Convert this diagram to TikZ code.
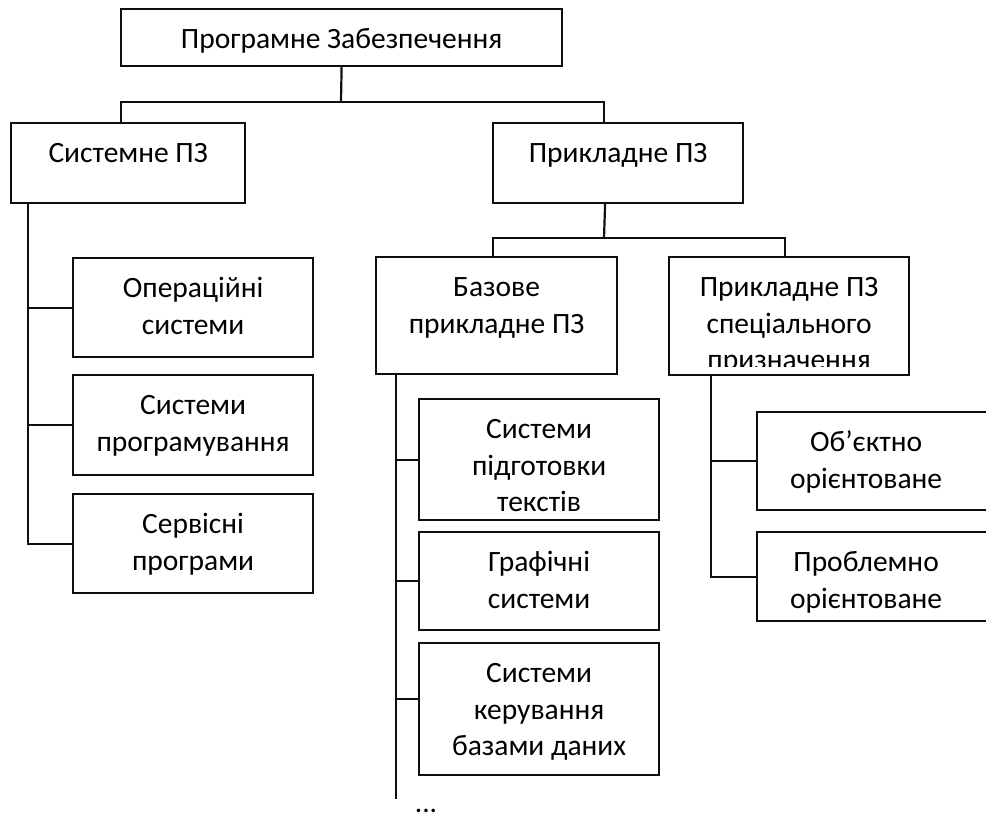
\documentclass[tikz,border=0pt]{standalone}
\usepackage{fontspec}
\setmainfont{Carlito}
\usepackage{tikz}
\usetikzlibrary{positioning, calc}
\definecolor{boxline}{RGB}{15,15,15}
\tikzset{
  box/.style={rectangle, draw=boxline, anchor=north west, inner sep=0pt,
    font=\fontsize{29.5}{36.5}\selectfont, line width=2.2pt},
  line/.style={line width=2.2pt, color=boxline}
}
% text of a box: width, height, lines (top aligned, as in the source)
\newcommand{\boxtxt}[3]{\parbox[t][#2][t]{#1}{\centering\rule{0pt}{39.5pt}#3}}

\begin{document}
\begin{tikzpicture}[x=1pt, y=-1pt]
  \useasboundingbox (0,0) rectangle (986,814);
  \clip (0,0) rectangle (986,814);

  % Root
  \node[box] (root) at (120,8) {\boxtxt{441pt}{57pt}{Програмне Забезпечення}};
  \node[box] (sys) at (10,122) {\boxtxt{234pt}{80pt}{Системне ПЗ}};
  \node[box] (prikl) at (492,122) {\boxtxt{250pt}{80pt}{Прикладне ПЗ}};
  \coordinate (rootj) at (341,102);
  \draw[line] (root.south) -- (rootj);
  \draw[line] ([xshift=-7pt]sys.north) |- (rootj) -| ([xshift=-14pt]prikl.north);

  % Systemne PZ
  \node[box] (opsys) at (72,257) {\boxtxt{240pt}{99pt}{Операційні\\системи}};
  \node[box] (progsys) at (72,374) {\boxtxt{240pt}{100pt}{Системи\\програмування}};
  \node[box] (serv) at (72,493) {\boxtxt{240pt}{99pt}{Сервісні\\програми}};
  \draw[line] ([xshift=18pt]sys.south west) |- (serv.west);
  \draw[line] (opsys.west) -- ++(-44,0);
  \draw[line] (progsys.west) -- ++(-44,0);

  % Prykladne PZ
  \node[box] (baz) at (375,256) {\boxtxt{241pt}{117pt}{Базове\\прикладне ПЗ}};
  \node[box] (spec) at (668,256) {\boxtxt{240pt}{118pt}{}};
  \begin{scope}
    \clip (spec.north west) rectangle ([yshift=10pt]spec.south east);
    \node[box, draw=none] (spectxt) at (spec.north west)
      {\boxtxt{240pt}{118pt}{Прикладне ПЗ\\спеціального\\призначення}};
  \end{scope}
  \coordinate (priklj) at (604,238);
  \draw[line] ([xshift=-13pt]prikl.south) -- (priklj);
  \draw[line] ([xshift=-4pt]baz.north) |- (priklj) -| ([xshift=-4pt]spec.north);

  % Bazove prykladne PZ
  \node[box] (texts) at (418,398) {\boxtxt{240pt}{121pt}{Системи\\підготовки\\текстів}};
  \node[box] (graf) at (418,531) {\boxtxt{240pt}{98pt}{Графічні\\системи}};
  \node[box] (dbms) at (418,642) {\boxtxt{240pt}{132pt}{Системи\\керування\\базами даних}};
  \coordinate (bazend) at (396,799);
  \draw[line] ([xshift=21pt]baz.south west) -- (bazend);
  \draw[line] (texts.west) -- ++(-22,0);
  \draw[line] (graf.west) -- ++(-22,0);
  \draw[line] ([yshift=10pt]dbms.west) -- ++(-22,0);
  \node[font=\fontsize{29.5}{36.5}\selectfont, anchor=base, inner sep=0pt] (more) at (426,812) {...};

  % Specialne PZ
  \node[box] (obj) at (756,411) {\boxtxt{218pt}{98pt}{Об’єктно\\орієнтоване}\hspace*{22pt}};
  \node[box] (probl) at (756,531) {\boxtxt{218pt}{89pt}{Проблемно\\орієнтоване}\hspace*{22pt}};
  \draw[line] ([xshift=43pt]spec.south west) |- (probl.west);
  \draw[line] (obj.west) -- ++(-45,0);
\end{tikzpicture}
\end{document}
